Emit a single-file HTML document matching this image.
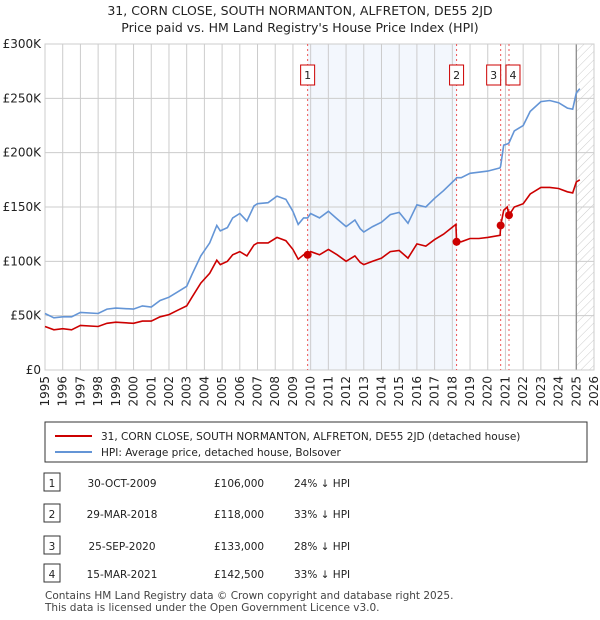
<!DOCTYPE html>
<html><head><meta charset="utf-8"><style>
body{margin:0;background:#fff;font-family:"Liberation Sans","DejaVu Sans",sans-serif;}
#wrap{position:relative;width:600px;height:620px;overflow:hidden}
</style></head><body><div id="wrap">
<svg id="svg" width="600" height="620" xmlns="http://www.w3.org/2000/svg" style="font-family:'DejaVu Sans','Liberation Sans',sans-serif">
<defs><pattern id="hatch" width="6" height="6" patternUnits="userSpaceOnUse" patternTransform="rotate(45)"><line x1="0" y1="0" x2="0" y2="6" stroke="#ccc" stroke-width="1"/></pattern></defs>
<text x="300" y="15" text-anchor="middle" font-size="12.5" fill="#222">31, CORN CLOSE, SOUTH NORMANTON, ALFRETON, DE55 2JD</text>
<text x="300" y="32" text-anchor="middle" font-size="12.5" fill="#222">Price paid vs. HM Land Registry's House Price Index (HPI)</text>
<g id="plot"></g>
<rect x="45" y="422" width="542" height="40" fill="#fff" stroke="#333" stroke-width="1"/>
<line x1="55" y1="436" x2="92" y2="436" stroke="#cc0000" stroke-width="2"/>
<text x="101" y="440" font-size="10.5" fill="#222">31, CORN CLOSE, SOUTH NORMANTON, ALFRETON, DE55 2JD (detached house)</text>
<line x1="55" y1="452" x2="92" y2="452" stroke="#6495d6" stroke-width="2"/>
<text x="101" y="456" font-size="10.5" fill="#222">HPI: Average price, detached house, Bolsover</text>
<g id="table" font-size="10.5" fill="#222"></g>
<text x="45" y="599" font-size="10.5" fill="#444">Contains HM Land Registry data © Crown copyright and database right 2025.</text>
<text x="45" y="611" font-size="10.5" fill="#444">This data is licensed under the Open Government Licence v3.0.</text>
</svg></div>
<script>
const times=[1995,1995.5,1996,1996.5,1997,1998,1998.5,1999,2000,2000.5,2001,2001.5,2002,2002.5,2003,2003.3,2003.8,2004.3,2004.7,2004.9,2005.3,2005.6,2006,2006.4,2006.8,2007,2007.6,2008.1,2008.6,2009,2009.3,2009.6,2009.83,2010,2010.5,2011,2011.5,2012,2012.5,2012.8,2013,2013.5,2014,2014.5,2015,2015.5,2016,2016.5,2017,2017.5,2018.2,2018.24,2018.5,2019,2019.5,2020,2020.7,2020.73,2020.9,2021.1,2021.2,2021.5,2022,2022.4,2023,2023.5,2024,2024.5,2024.8,2025,2025.2];
const hpiValues=[52,48,49,49,53,52,56,57,56,59,58,64,67,72,77,88,105,117,133,128,131,140,144,137,151,153,154,160,157,146,134,140,140,144,140,146,139,132,138,130,127,132,136,143,145,135,152,150,158,165,176,177,177,181,182,183,186,188,207,208,209,220,225,238,247,248,246,241,240,255,259];
const priceValues=[40,37,38,37,41,40,43,44,43,45,45,49,51,55,59,67,80,89,101,97,100,106,109,105,115,117,117,122,119,111,102,106,106,109,106,111,106,100,105,99,97,100,103,109,110,103,116,114,120,125,134,118,118,121,121,122,124,133,147,150,142.5,150,153,162,168,168,167,164,163,173,175];
const saleLabels=["1","2","3","4"];
const saleTimes=[2009.83,2018.24,2020.73,2021.2];
const saleValues=[106,118,133,142.5];
const saleDates=["30-OCT-2009","29-MAR-2018","25-SEP-2020","15-MAR-2021"];
const salePrices=["£106,000","£118,000","£133,000","£142,500"];
const saleDiffs=["24% ↓ HPI","33% ↓ HPI","28% ↓ HPI","33% ↓ HPI"];
const yTicks=[0,50,100,150,200,250,300];
const yTickLabels=["£0","£50K","£100K","£150K","£200K","£250K","£300K"];
const xTicks=[1995,1996,1997,1998,1999,2000,2001,2002,2003,2004,2005,2006,2007,2008,2009,2010,2011,2012,2013,2014,2015,2016,2017,2018,2019,2020,2021,2022,2023,2024,2025,2026];

const NS="http://www.w3.org/2000/svg";
const L=45,R=594,T=44,B=370;
const X=t=>L+(t-1995)/(2026-1995)*(R-L);
const Y=v=>B-v/300*(B-T);
const g=document.getElementById('plot');
function mk(tag,attrs,parent){const e=document.createElementNS(NS,tag);for(const k in attrs)e.setAttribute(k,attrs[k]);(parent||g).appendChild(e);return e;}
let e;
e=mk('rect',{x:X(2009.83),y:T,width:X(2018.24)-X(2009.83),height:B-T,fill:'#eef3fc',opacity:0.7});


e=mk('rect',{x:X(2025.0),y:T,width:R-X(2025.0),height:B-T,fill:'url(#hatch)'});


xTicks.forEach(t=>{
  e=mk('line',{x1:X(t),x2:X(t),y1:T,y2:B,stroke:'#ccc','stroke-width':1});
  
  
  e=mk('text',{x:0,y:0,'font-size':12,fill:'#222','text-anchor':'end',transform:`translate(${X(t)+4},${B+6}) rotate(-90)`});
  e.textContent=t;
  
  
});
yTicks.forEach((v,i)=>{
  e=mk('line',{x1:L,x2:R,y1:Y(v),y2:Y(v),stroke:'#ccc','stroke-width':1});
  
  
  e=mk('text',{x:41,y:Y(v)+4,'font-size':12,fill:'#222','text-anchor':'end'});
  e.textContent=yTickLabels[i];
  
  
});
e=mk('line',{x1:X(2025.0),x2:X(2025.0),y1:T,y2:B,stroke:'#888','stroke-width':1.2});


e=mk('rect',{x:L,y:T,width:R-L,height:B-T,fill:'none',stroke:'#ccc'});


saleTimes.forEach((t,i)=>{
  e=mk('line',{x1:X(t),x2:X(t),y1:T,y2:B,stroke:'#e55','stroke-width':1,'stroke-dasharray':'2,3'});
  
  
});
const hp=times.map((t,i)=>`${i?'L':'M'}${X(t).toFixed(1)},${Y(hpiValues[i]).toFixed(1)}`).join('');
e=mk('path',{d:hp,fill:'none',stroke:'#6495d6','stroke-width':1.6});


const pp=times.map((t,i)=>`${i?'L':'M'}${X(t).toFixed(1)},${Y(priceValues[i]).toFixed(1)}`).join('');
e=mk('path',{d:pp,fill:'none',stroke:'#cc0000','stroke-width':1.6});


saleTimes.forEach((t,i)=>{
  e=mk('circle',{cx:X(t),cy:Y(saleValues[i]),r:4,fill:'#cc0000'});
  
  
  const bx=X(t)-(i==2?15:(i==3?-1:7));
  const ox=i==2?X(t)-14:(i==3?X(t)-3:X(t)-7);
  e=mk('rect',{x:ox,y:65,width:14,height:20,fill:'#fff',stroke:'#cc0000'});
  
  
  e=mk('text',{x:ox+7,y:79,'font-size':11,fill:'#222','text-anchor':'middle'});
  e.textContent=saleLabels[i];
  
  
});
const tb=document.getElementById('table');
const rowsY=[483,514,546,574];
saleLabels.forEach((s,i)=>{
  const y=rowsY[i];
  e=mk('rect',{x:44,y:y-10,width:16,height:18,fill:'#fff',stroke:'#333'},tb);
  
  
  const cells=[[52,s,'middle'],[122,saleDates[i],'middle'],[214,salePrices[i],'start'],[294,saleDiffs[i],'start']];
  cells.forEach(c=>{
    e=mk('text',{x:c[0],y:y+4,'text-anchor':c[2]},tb);
    e.textContent=c[1];
    
    
  });
});
</script></body></html>
